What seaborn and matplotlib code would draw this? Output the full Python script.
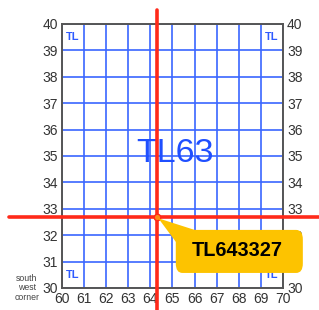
import matplotlib
matplotlib.use("Agg")
import matplotlib.pyplot as plt
import seaborn as sns
import pandas as pd
from matplotlib.patches import FancyBboxPatch, Polygon

# ---- data ----
eastings = list(range(60, 71))
northings = list(range(30, 41))
square_label = "TL63"
corner_label = "TL"
ref_label = "TL643327"
point_e = [64.3]
point_n = [32.7]
sw_text = "south\nwest\ncorner"

sns.set_theme(style="white")
plt.rcParams['font.family'] = ['Liberation Sans', 'DejaVu Sans']

fig = plt.figure(figsize=(3.19, 3.10), dpi=100)
ax = fig.add_axes([0.1944, 0.071, 0.6926, 0.8516])
ax.set_xlim(60, 70)
ax.set_ylim(30, 40)
ax.set_xticks(eastings)
ax.set_yticks(northings)
ax.set_xticklabels([str(v) for v in eastings])
ax.set_yticklabels([str(v) for v in northings])
ax.tick_params(axis='both', length=0, labelsize=10, colors='#333333', pad=3)
ax.tick_params(axis='y', labelright=True, right=True)
ax.grid(True, color='#3a66ff', linewidth=1.2)
ax.set_axisbelow(True)
for s in ax.spines.values():
    s.set_color('#555555')
    s.set_linewidth(1.4)
    s.set_zorder(3)

# corner labels
tl_kw = dict(color='#2f5bff', fontsize=8, ha='center', va='center', fontweight='bold')
for (cx, cy) in [(60.5, 39.5), (69.5, 39.5), (60.5, 30.5), (69.5, 30.5)]:
    ax.text(cx, cy, corner_label, **tl_kw)

# square label
ax.text(65.13, 35.1, square_label, color='#1f4fff', fontsize=24.5,
        ha='center', va='center', zorder=4)

# south west corner
ax.text(58.4, 30.0, sw_text, color='#444444', fontsize=6.3, ha='center',
        va='center', linespacing=1.05, clip_on=False)

# red crosshair
red = '#ff2a1a'
cross_v = pd.DataFrame({'e': point_e * 2, 'n': [29.0, 40.53]})
cross_h = pd.DataFrame({'e': [57.6, 71.7], 'n': point_n * 2})
for df in (cross_v, cross_h):
    sns.lineplot(data=df, x='e', y='n', color=red, linewidth=2.6, ax=ax,
                 sort=False, estimator=None, zorder=5, clip_on=False)
ax.set_xlabel('')
ax.set_ylabel('')

pt = pd.DataFrame({'e': point_e, 'n': point_n})
sns.scatterplot(data=pt, x='e', y='n', s=22, color='#ff8a1a', edgecolor=red,
                linewidth=1, ax=ax, zorder=6, clip_on=False)
ax.set_xlabel('')
ax.set_ylabel('')

# callout
gold = '#fdc300'
box = FancyBboxPatch((65.15, 30.57), 5.75, 1.63,
                     boxstyle="round,pad=0,rounding_size=0.3",
                     mutation_aspect=26.4 / 22.1,
                     facecolor=gold, edgecolor='none', zorder=7, clip_on=False)
ax.add_patch(box)
wedge = Polygon([(point_e[0] + 0.06, point_n[0] - 0.06), (66.0, 32.2), (65.15, 31.75)],
                closed=True, facecolor=gold, edgecolor='none', zorder=7, clip_on=False)
ax.add_patch(wedge)
ax.text(67.94, 31.42, ref_label, color='black', fontsize=14.3, fontweight='bold',
        ha='center', va='center', zorder=8)

fig.savefig('out.png', dpi=100)
